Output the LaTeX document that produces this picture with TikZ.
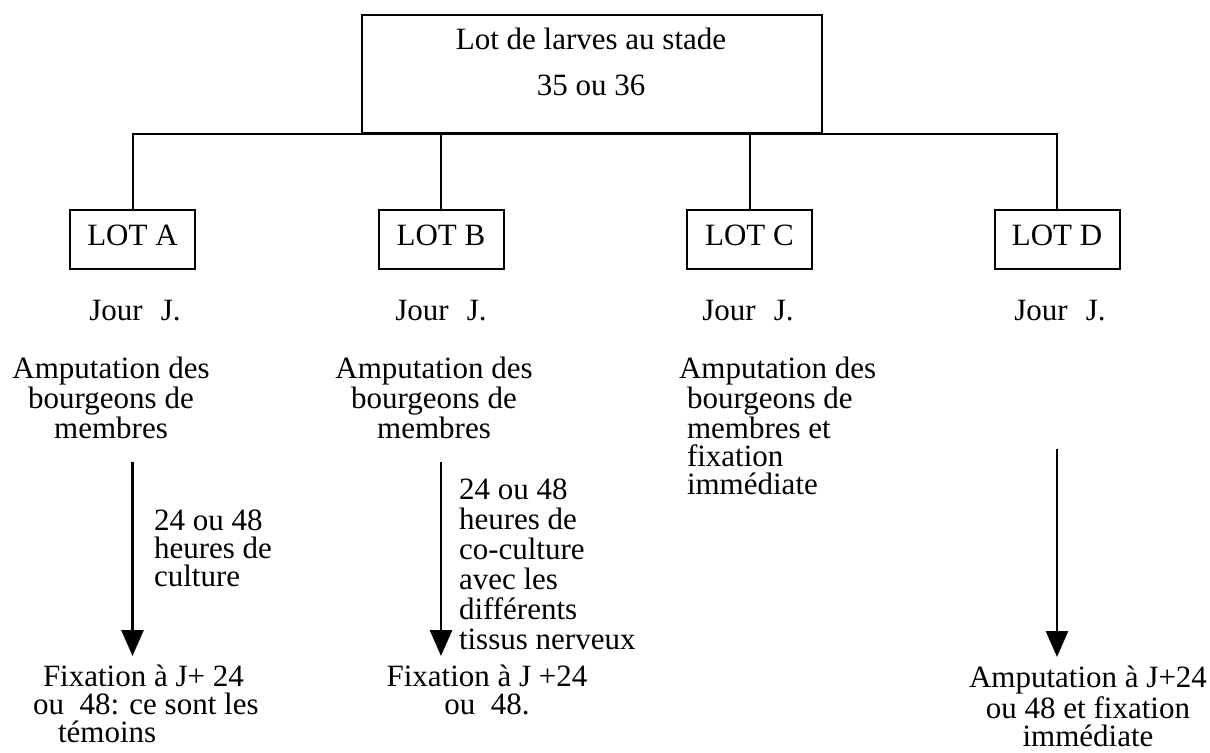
\documentclass[tikz,border=0pt]{standalone}
\usepackage{fontspec}
\setmainfont{Liberation Serif}
\usetikzlibrary{arrows.meta}

\tikzset{
  lotbox/.style={draw,line width=1pt,minimum width=62.5pt,minimum height=29.5pt,
    inner sep=0pt,text depth=4pt,font=\fontsize{15.5}{14}\selectfont},
  txt/.style={inner sep=0pt,font=\fontsize{15.5}{14}\selectfont},
  flow/.style={-{Triangle[length=13pt,width=11pt]},line width=1.4pt},
}

\begin{document}
\begin{tikzpicture}[x=0.5pt,y=-0.5pt,line width=1pt]
	\useasboundingbox (0,0) rectangle (1210,752);
	
	% ---- lot de depart ----
	\node[draw,line width=1pt,minimum width=230pt,minimum height=59pt] (lot) at (592,74) {};
	\node[txt,align=center,font=\fontsize{15.5}{23}\selectfont] (lotTexte) at (591,62)
	{Lot de larves au stade\\35 ou 36};
	
	% ---- les quatre lots ----
	\node[lotbox] (lotA) at (132.5,239.5) {LOT A};
	\node[lotbox] (lotB) at (441,239.5) {LOT B};
	\node[lotbox] (lotC) at (749.5,239.5) {LOT C};
	\node[lotbox] (lotD) at (1057,239.5) {LOT D};
	
	% ---- arbre ----
	\draw (lotA.north) |- (lot.south);
	\draw (lotD.north) |- (lot.south);
	\draw (lotB.north) -- (lotB.north |- lot.south);
	\draw (lotC.north) -- (lotC.north |- lot.south);
	
	% ---- jour J ----
	\node[txt,anchor=north] (jourA) at (135,299) {Jour\hspace{9pt}J.};
	\node[txt,anchor=north] (jourB) at (441,299) {Jour\hspace{9pt}J.};
	\node[txt,anchor=north] (jourC) at (748,299) {Jour\hspace{9pt}J.};
	\node[txt,anchor=north] (jourD) at (1060,299) {Jour\hspace{9pt}J.};
	
	% ---- amputation ----
	\node[txt,align=center,anchor=north] (ampA) at (111,356)
	{Amputation des\\bourgeons de\\membres};
	\node[txt,align=center,anchor=north] (ampB) at (434,356)
	{Amputation des\\bourgeons de\\membres};
	\node[txt,align=left,anchor=north west] (ampC) at (686,356)
	{\hspace*{-4pt}Amputation des\\bourgeons de\\membres et\\fixation\\immédiate};
	
	% ---- fixation ----
	\node[txt,align=left,anchor=north west] (fixA) at (32,664)
	{\hspace*{5pt}Fixation à J+ 24\\ou\ \ 48: ce sont les\\\hspace*{12.5pt}témoins};
	\node[txt,align=center,anchor=north] (fixB) at (487,664)
	{Fixation à J +24\\ou\ \ 48.};
	\node[txt,align=center,anchor=north] (fixD) at (1088,665)
	{Amputation à J+24\\ou 48 et fixation\\immédiate};
	
	% ---- fleches ----
	\draw[flow] ([yshift=-11pt]ampA.south -| lotA.south) -- ([yshift=4pt]fixA.north -| lotA.south);
	\draw[flow] ([yshift=-11pt]ampB.south -| lotB.south) -- ([yshift=4pt]fixB.north -| lotB.south);
	\draw[flow] ([yshift=-63.5pt]jourD.south -| lotD.south) -- ([yshift=4pt]fixD.north -| lotD.south);
	
	\node[txt,align=left,anchor=north west] (dureeA) at (153,509)
	{24 ou 48\\heures de\\culture};
	\node[txt,align=left,anchor=north west,font=\fontsize{15.5}{15}\selectfont] (dureeB) at (458,478)
	{24 ou 48\\heures de\\co-culture\\avec les\\différents\\tissus nerveux};
	
\end{tikzpicture}
\end{document}
